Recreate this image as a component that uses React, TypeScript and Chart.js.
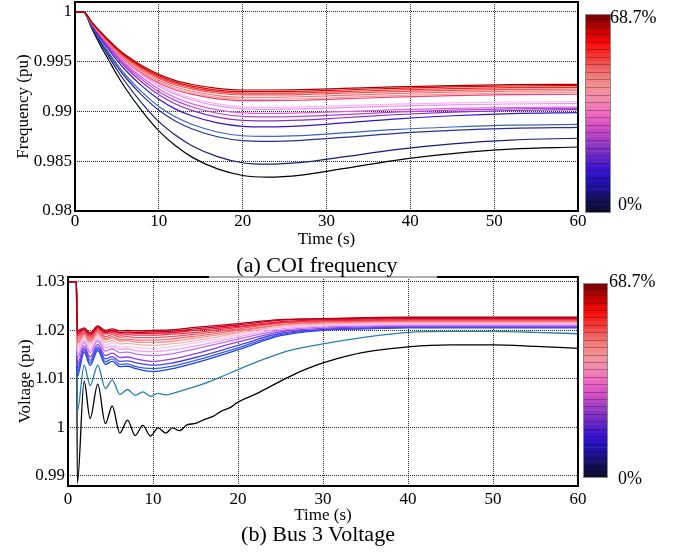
import React, { useEffect, useRef } from "react";
import { Chart, registerables } from "chart.js";
Chart.register(...registerables);

// ---------- (a) COI frequency ----------
const TIME_F = [0, 1, 2, 3, 4, 5, 6, 8, 10, 12, 14, 17, 20, 23, 27, 32, 38, 45, 52, 60];
const F_X_TICKS = [0, 10, 20, 30, 40, 50, 60];
const F_Y_TICKS = [0.98, 0.985, 0.99, 0.995, 1];
const F_Y_LABELS = ["0.98", "0.985", "0.99", "0.995", "1"];

const FREQ_00 = [1, 1, 0.99834, 0.99668, 0.99519, 0.99369, 0.99236, 0.99004, 0.98805, 0.98655, 0.98539, 0.98423, 0.98357, 0.9834, 0.98361, 0.98425, 0.98507, 0.98576, 0.98622, 0.98643];
const FREQ_01 = [1, 1, 0.99847, 0.99694, 0.99556, 0.99419, 0.99296, 0.99082, 0.98898, 0.98761, 0.98654, 0.98547, 0.98485, 0.9847, 0.98488, 0.98543, 0.98614, 0.98674, 0.98713, 0.98731];
const FREQ_02 = [1, 1, 0.99851, 0.99708, 0.99578, 0.99454, 0.99344, 0.99162, 0.99012, 0.98902, 0.98824, 0.98746, 0.98707, 0.987, 0.9871, 0.98739, 0.98778, 0.9881, 0.98831, 0.98841];
const FREQ_03 = [1, 1, 0.99856, 0.99719, 0.99594, 0.99475, 0.99369, 0.99194, 0.9905, 0.98944, 0.98869, 0.98794, 0.98756, 0.9875, 0.98758, 0.98784, 0.98817, 0.98844, 0.98863, 0.98871];
const FREQ_04 = [1, 1, 0.99867, 0.9974, 0.99625, 0.99515, 0.99417, 0.99255, 0.99122, 0.99024, 0.98955, 0.98885, 0.98851, 0.98845, 0.98855, 0.98885, 0.98924, 0.98957, 0.98978, 0.98988];
const FREQ_05 = [1, 1, 0.99874, 0.99754, 0.99644, 0.9954, 0.99447, 0.99294, 0.99168, 0.99075, 0.99009, 0.98943, 0.9891, 0.98905, 0.98913, 0.98937, 0.98967, 0.98993, 0.9901, 0.99018];
const FREQ_06 = [1, 1, 0.99879, 0.99763, 0.99657, 0.99557, 0.99467, 0.9932, 0.99198, 0.99109, 0.99045, 0.98982, 0.9895, 0.98945, 0.98951, 0.98969, 0.98993, 0.99013, 0.99026, 0.99032];
const FREQ_07 = [1, 1, 0.99883, 0.99771, 0.99669, 0.99572, 0.99485, 0.99342, 0.99225, 0.99138, 0.99077, 0.99016, 0.98985, 0.9898, 0.98985, 0.98998, 0.99016, 0.99031, 0.9904, 0.99045];
const FREQ_08 = [1, 1, 0.99888, 0.9978, 0.99682, 0.99589, 0.99506, 0.99369, 0.99257, 0.99174, 0.99115, 0.99056, 0.99027, 0.99022, 0.99026, 0.99038, 0.99053, 0.99066, 0.99075, 0.99079];
const FREQ_09 = [1, 1, 0.9989, 0.99784, 0.99689, 0.99598, 0.99516, 0.99382, 0.99272, 0.9919, 0.99133, 0.99076, 0.99047, 0.99042, 0.99046, 0.99058, 0.99073, 0.99086, 0.99095, 0.99099];
const FREQ_10 = [1, 1, 0.99884, 0.99777, 0.99679, 0.9959, 0.9951, 0.99385, 0.99287, 0.99216, 0.99171, 0.99127, 0.99109, 0.99109, 0.99113, 0.99127, 0.99144, 0.99159, 0.99169, 0.99173];
const FREQ_11 = [1, 1, 0.99886, 0.99781, 0.99684, 0.99597, 0.99518, 0.99395, 0.99298, 0.99228, 0.99184, 0.99141, 0.99123, 0.99123, 0.99128, 0.99142, 0.9916, 0.99175, 0.99185, 0.9919];
const FREQ_12 = [1, 1, 0.99889, 0.99786, 0.99691, 0.99606, 0.99529, 0.99409, 0.99314, 0.99246, 0.99203, 0.9916, 0.99143, 0.99143, 0.99148, 0.99161, 0.99179, 0.99194, 0.99204, 0.99209];
const FREQ_13 = [1, 1, 0.99892, 0.99792, 0.997, 0.99616, 0.99541, 0.99425, 0.99333, 0.99266, 0.99224, 0.99183, 0.99166, 0.99166, 0.9917, 0.99183, 0.99199, 0.99213, 0.99222, 0.99226];
const FREQ_14 = [1, 1, 0.99894, 0.99796, 0.99706, 0.99624, 0.99551, 0.99436, 0.99346, 0.99281, 0.9924, 0.99199, 0.99183, 0.99183, 0.99187, 0.992, 0.99216, 0.9923, 0.99239, 0.99243];
const FREQ_15 = [1, 1, 0.99896, 0.998, 0.99712, 0.99632, 0.99559, 0.99447, 0.99359, 0.99295, 0.99255, 0.99215, 0.99199, 0.99199, 0.99203, 0.99216, 0.99233, 0.99247, 0.99256, 0.9926];
const FREQ_16 = [1, 1, 0.99898, 0.99804, 0.99718, 0.99639, 0.99569, 0.99459, 0.99373, 0.9931, 0.99271, 0.99232, 0.99216, 0.99216, 0.9922, 0.99232, 0.99247, 0.9926, 0.99269, 0.99273];

const FREQ_SERIES = [FREQ_00, FREQ_01, FREQ_02, FREQ_03, FREQ_04, FREQ_05, FREQ_06, FREQ_07, FREQ_08, FREQ_09, FREQ_10, FREQ_11, FREQ_12, FREQ_13, FREQ_14, FREQ_15, FREQ_16];
const FREQ_COLORS = ["#000000", "#1c1c78", "#28309c", "#3a64c0", "#3414c8", "#8a2ccc", "#b444d4", "#e25ae0", "#f090f0", "#f8b4f4", "#f0407c", "#f89898", "#f07474", "#f05050", "#ff2020", "#e00000", "#a00000"];

// ---------- (b) Bus 3 voltage ----------
const TIME_V0 = [0, 0.99, 1.1, 1.9, 2.6, 3.5, 4.4, 5.2, 6.1, 7.0, 7.9, 8.8, 9.7, 10.6, 11.5, 12.3, 13.1, 14, 15, 16, 17, 18, 19, 20, 22, 24, 26, 28, 30, 33, 36, 40, 45, 50, 55, 60];
const VOLT_00 = [1.03, 1.03, 0.9885, 1.0095, 1.0018, 1.0089, 1.0008, 1.0044, 0.9988, 1.0015, 0.9983, 1.0004, 0.9982, 0.9999, 0.9988, 0.9999, 0.9993, 1.0005, 1.0008, 1.0016, 1.0022, 1.0033, 1.004, 1.0052, 1.0068, 1.0086, 1.0104, 1.012, 1.0133, 1.0148, 1.0158, 1.0166, 1.017, 1.017, 1.0167, 1.0163];
const TIME_V1 = [0, 0.99, 1.1, 1.9, 2.6, 3.5, 4.4, 5.2, 6.1, 7.0, 7.9, 8.8, 9.7, 10.6, 11.5, 12.5, 14, 16, 18, 20, 23, 26, 30, 35, 40, 45, 50, 55, 60];
const VOLT_01 = [1.03, 1.03, 1.0033, 1.0128, 1.0086, 1.0128, 1.008, 1.0098, 1.0068, 1.0078, 1.0066, 1.0073, 1.0064, 1.007, 1.0067, 1.0071, 1.0079, 1.009, 1.0104, 1.0119, 1.014, 1.0158, 1.0172, 1.0186, 1.0196, 1.0198, 1.0198, 1.0196, 1.0193];
const TIME_V = [0, 0.99, 1.08, 1.9, 2.6, 3.5, 4.4, 5.2, 6.1, 7, 8, 10, 12, 15, 20, 25, 30, 35, 40, 50, 60];
const VOLT_02 = [1.03, 1.03, 1.0105, 1.0155, 1.0128, 1.0158, 1.013, 1.0136, 1.0125, 1.0126, 1.0121, 1.0115, 1.012, 1.0133, 1.016, 1.0189, 1.02, 1.0203, 1.0205, 1.0205, 1.0205];
const VOLT_03 = [1.03, 1.03, 1.0112, 1.0159, 1.0133, 1.0162, 1.0135, 1.0141, 1.013, 1.0131, 1.0125, 1.0121, 1.0125, 1.0138, 1.0164, 1.0191, 1.0201, 1.0204, 1.0206, 1.0206, 1.0206];
const VOLT_04 = [1.03, 1.03, 1.0119, 1.0163, 1.0138, 1.0166, 1.0141, 1.0146, 1.0136, 1.0137, 1.0133, 1.0128, 1.0132, 1.0144, 1.0169, 1.0194, 1.0202, 1.0205, 1.0207, 1.0207, 1.0207];
const VOLT_05 = [1.03, 1.03, 1.0129, 1.0168, 1.0145, 1.0171, 1.0148, 1.0153, 1.0144, 1.0145, 1.0141, 1.0136, 1.014, 1.0152, 1.0176, 1.0197, 1.0204, 1.0207, 1.0208, 1.0208, 1.0208];
const VOLT_06 = [1.03, 1.03, 1.0142, 1.0175, 1.0154, 1.0178, 1.0157, 1.0162, 1.0154, 1.0155, 1.0151, 1.0148, 1.0151, 1.0162, 1.0182, 1.02, 1.0207, 1.0209, 1.021, 1.021, 1.021];
const VOLT_07 = [1.03, 1.03, 1.015, 1.0179, 1.016, 1.0183, 1.0164, 1.0168, 1.0161, 1.0162, 1.0158, 1.0156, 1.0159, 1.0168, 1.0186, 1.0203, 1.0209, 1.0211, 1.0212, 1.0212, 1.0212];
const VOLT_08 = [1.03, 1.03, 1.0158, 1.0183, 1.0166, 1.0187, 1.0169, 1.0174, 1.0166, 1.0167, 1.0165, 1.0163, 1.0166, 1.0174, 1.019, 1.0206, 1.0211, 1.0213, 1.0214, 1.0214, 1.0214];
const VOLT_09 = [1.03, 1.03, 1.0165, 1.0187, 1.0171, 1.0191, 1.0175, 1.0179, 1.0172, 1.0173, 1.0171, 1.0169, 1.0172, 1.0179, 1.0194, 1.0208, 1.0213, 1.0215, 1.0216, 1.0216, 1.0216];
const VOLT_10 = [1.03, 1.03, 1.0172, 1.0191, 1.0176, 1.0194, 1.018, 1.0184, 1.0178, 1.0179, 1.0176, 1.0175, 1.0177, 1.0184, 1.0197, 1.0211, 1.0215, 1.0217, 1.0218, 1.0218, 1.0218];
const VOLT_11 = [1.03, 1.03, 1.0176, 1.0193, 1.0179, 1.0197, 1.0183, 1.0187, 1.0181, 1.0182, 1.018, 1.018, 1.0182, 1.0188, 1.02, 1.0212, 1.0217, 1.0218, 1.0219, 1.0219, 1.0219];
const VOLT_12 = [1.03, 1.03, 1.0182, 1.0196, 1.0183, 1.02, 1.0187, 1.0191, 1.0186, 1.0187, 1.0185, 1.0185, 1.0187, 1.0192, 1.0203, 1.0215, 1.0219, 1.022, 1.0221, 1.0221, 1.0221];
const VOLT_13 = [1.03, 1.03, 1.0188, 1.0199, 1.0187, 1.0203, 1.0192, 1.0195, 1.019, 1.0191, 1.019, 1.019, 1.0192, 1.0196, 1.0206, 1.0216, 1.022, 1.0221, 1.0222, 1.0222, 1.0222];
const VOLT_14 = [1.03, 1.03, 1.0192, 1.0202, 1.019, 1.0205, 1.0195, 1.0198, 1.0194, 1.0195, 1.0194, 1.0194, 1.0195, 1.02, 1.0208, 1.0218, 1.0222, 1.0223, 1.0224, 1.0224, 1.0224];
const VOLT_15 = [1.03, 1.03, 1.0195, 1.0203, 1.0192, 1.0207, 1.0197, 1.02, 1.0196, 1.0197, 1.0196, 1.0197, 1.0198, 1.0203, 1.0211, 1.0221, 1.0224, 1.0225, 1.0226, 1.0226, 1.0226];
const VOLT_16 = [1.03, 1.03, 1.0199, 1.0205, 1.0195, 1.0209, 1.02, 1.0203, 1.0199, 1.02, 1.0199, 1.02, 1.0201, 1.0206, 1.0214, 1.0222, 1.0224, 1.0226, 1.0227, 1.0227, 1.0227];

const VOLT_SERIES = [VOLT_00, VOLT_01, VOLT_02, VOLT_03, VOLT_04, VOLT_05, VOLT_06, VOLT_07, VOLT_08, VOLT_09, VOLT_10, VOLT_11, VOLT_12, VOLT_13, VOLT_14, VOLT_15, VOLT_16];
const VOLT_TIMES = [TIME_V0, TIME_V1, TIME_V, TIME_V, TIME_V, TIME_V, TIME_V, TIME_V, TIME_V, TIME_V, TIME_V, TIME_V, TIME_V, TIME_V, TIME_V, TIME_V, TIME_V];
const VOLT_COLORS = ["#000000", "#2a7fb0", "#2040e0", "#3060f0", "#5040e8", "#9040e0", "#c070f0", "#f0a0f8", "#f8c8e8", "#f8b0b0", "#f89090", "#f07070", "#f05060", "#f03048", "#e81830", "#d00020", "#b00018"];
const V_X_TICKS = [0, 10, 20, 30, 40, 50, 60];
const V_Y_TICKS = [0.99, 1, 1.01, 1.02, 1.03];
const V_Y_LABELS = ["0.99", "1", "1.01", "1.02", "1.03"];

const CBAR_LABELS = ["0%", "68.7%"];
const CBAR_STOPS = ["#0b0b2a", "#14105e", "#1e10a8", "#3612d2", "#6a28c4", "#9a3cc4", "#d04cc4", "#f068c0", "#f08cae", "#f49090", "#f07070", "#f43a3a", "#ff0a0a", "#c00000", "#7a0000"];

const FONT = "'Liberation Serif', 'Times New Roman', serif";

function hexToRgb(h: string) {
  const n = parseInt(h.slice(1), 16);
  return [(n >> 16) & 255, (n >> 8) & 255, n & 255];
}
function cmap(t: number) {
  const p = t * (CBAR_STOPS.length - 1);
  const i = Math.min(Math.floor(p), CBAR_STOPS.length - 2);
  const f = p - i;
  const a = hexToRgb(CBAR_STOPS[i]);
  const b = hexToRgb(CBAR_STOPS[i + 1]);
  return `rgb(${Math.round(a[0] + (b[0] - a[0]) * f)},${Math.round(a[1] + (b[1] - a[1]) * f)},${Math.round(a[2] + (b[2] - a[2]) * f)})`;
}

const decorPlugin = {
  id: "decor",
  afterDraw(chart: any, _args: any, opts: any) {
    const ctx = chart.ctx;
    const ca = chart.chartArea;
    ctx.save();
    // frame
    ctx.strokeStyle = "#000";
    ctx.lineWidth = 2;
    ctx.strokeRect(ca.left, ca.top, ca.right - ca.left, ca.bottom - ca.top);
    if (opts.gray) {
      ctx.strokeStyle = "#b0b0b0";
      ctx.beginPath();
      ctx.moveTo(opts.gray[0], ca.top);
      ctx.lineTo(opts.gray[1], ca.top);
      ctx.stroke();
    }
    // colorbar
    const { x, y, w, h } = opts.bar;
    const n = 52;
    const bh = h / n;
    for (let i = 0; i < n; i++) {
      const t = (i + 0.5) / n;
      const yy = y + h - (i + 1) * bh;
      ctx.fillStyle = cmap(t);
      ctx.fillRect(x, yy, w, bh + 0.5);
    }
    ctx.strokeStyle = "rgba(0,0,0,0.28)";
    ctx.lineWidth = 1;
    for (let i = 1; i < n; i += 1) {
      if (i % 2 === 0) continue;
      const yy = Math.round(y + h - i * bh) + 0.5;
      ctx.beginPath();
      ctx.moveTo(x, yy);
      ctx.lineTo(x + w, yy);
      ctx.stroke();
    }
    ctx.strokeStyle = "#8a8a8a";
    ctx.strokeRect(x - 0.5, y - 0.5, w + 1, h + 1);
    ctx.fillStyle = "#000";
    ctx.font = `18px ${FONT}`;
    ctx.textBaseline = "middle";
    ctx.textAlign = "left";
    ctx.fillText(CBAR_LABELS[1], opts.topLabel[0], opts.topLabel[1]);
    ctx.fillText(CBAR_LABELS[0], opts.botLabel[0], opts.botLabel[1]);
    ctx.restore();
  },
};

function makeConfig(p: any) {
  const datasets = p.series
    .map((vals: number[], i: number) => ({
      data: p.times[i].map((t: number, j: number) => ({ x: t, y: vals[j] })),
      borderColor: p.colors[i],
      borderWidth: p.lw,
      pointRadius: 0,
      fill: false,
      cubicInterpolationMode: "monotone",
    }))
    .reverse();
  const tickFont = { family: FONT, size: 17 };
  return {
    type: "line",
    data: { datasets },
    plugins: [decorPlugin],
    options: {
      animation: false,
      responsive: false,
      events: [],
      layout: { padding: p.padding },
      plugins: {
        legend: { display: false },
        tooltip: { enabled: false },
        decor: p.decor,
      },
      scales: {
        x: {
          type: "linear",
          min: 0,
          max: 60,
          afterBuildTicks: (s: any) => {
            s.ticks = p.xTicks.map((v: number) => ({ value: v }));
          },
          afterFit: (s: any) => {
            s.height = p.xHeight;
            s.paddingLeft = 0;
            s.paddingRight = 0;
          },
          ticks: { font: tickFont, color: "#000", padding: p.xPad, maxRotation: 0, autoSkip: false, callback: (v: number) => String(v) },
          grid: { color: "rgba(0,0,0,0.85)", lineWidth: 1, drawTicks: false },
          border: { display: false, dash: [1, 1] },
          title: { display: true, text: "Time (s)", font: tickFont, color: "#000", padding: { top: 0, bottom: 0 } },
        },
        y: {
          type: "linear",
          min: p.yMin,
          max: p.yMax,
          afterBuildTicks: (s: any) => {
            s.ticks = p.yTicks.map((v: number) => ({ value: v }));
          },
          afterFit: (s: any) => {
            s.width = p.yWidth;
            s.paddingTop = 0;
            s.paddingBottom = 0;
          },
          ticks: {
            font: tickFont,
            color: "#000",
            padding: 3,
            callback: (v: number) => {
              const k = p.yTicks.findIndex((q: number) => Math.abs(q - v) < 1e-9);
              return k >= 0 ? p.yLabels[k] : "";
            },
          },
          grid: { color: "rgba(0,0,0,0.85)", lineWidth: 1, drawTicks: false },
          border: { display: false, dash: [1, 1] },
          title: { display: true, text: p.yTitle, font: tickFont, color: "#000", padding: { top: p.yTitlePad, bottom: 0 } },
        },
      },
    },
  };
}

export default function App() {
  const refA = useRef<HTMLCanvasElement>(null);
  const refB = useRef<HTMLCanvasElement>(null);
  useEffect(() => {
    const a = new Chart(
      refA.current as HTMLCanvasElement,
      makeConfig({
        series: FREQ_SERIES,
        times: FREQ_SERIES.map(() => TIME_F),
        colors: FREQ_COLORS,
        lw: 1.2,
        padding: { left: 0, right: 108, top: 2, bottom: 0 },
        xTicks: F_X_TICKS,
        xHeight: 39,
        xPad: 0,
        yMin: 0.98,
        yMax: 1.001,
        yTicks: F_Y_TICKS,
        yLabels: F_Y_LABELS,
        yWidth: 75,
        yTitle: "Frequency (pu)",
        yTitlePad: 13,
        decor: { bar: { x: 586, y: 15, w: 24, h: 197 }, topLabel: [610, 18], botLabel: [618, 205] },
      }) as any
    );
    const b = new Chart(
      refB.current as HTMLCanvasElement,
      makeConfig({
        series: VOLT_SERIES,
        times: VOLT_TIMES,
        colors: VOLT_COLORS,
        lw: 1.3,
        padding: { left: 0, right: 108, top: 7, bottom: 0 },
        xTicks: V_X_TICKS,
        xHeight: 40,
        xPad: 3,
        yMin: 0.9879,
        yMax: 1.031,
        yTicks: V_Y_TICKS,
        yLabels: V_Y_LABELS,
        yWidth: 68,
        yTitle: "Voltage (pu)",
        yTitlePad: 15,
        decor: { bar: { x: 584, y: 14, w: 23, h: 193 }, topLabel: [609, 12], botLabel: [618, 209], gray: [209, 437] },
      }) as any
    );
    return () => {
      a.destroy();
      b.destroy();
    };
  }, []);
  const cap: React.CSSProperties = {
    position: "absolute",
    fontFamily: FONT,
    fontSize: 22,
    lineHeight: "22px",
    color: "#000",
    whiteSpace: "nowrap",
    transform: "translateX(-50%)",
  };
  return (
    <div style={{ position: "absolute", left: 0, top: 0, width: 686, height: 552, background: "#fff", overflow: "hidden" }}>
      <canvas ref={refA} width={686} height={250} style={{ position: "absolute", left: 0, top: 0, width: 686, height: 250 }} />
      <canvas ref={refB} width={686} height={256} style={{ position: "absolute", left: 0, top: 270, width: 686, height: 256 }} />
      <div style={{ ...cap, left: 317, top: 254 }}>(a) COI frequency</div>
      <div style={{ ...cap, left: 318, top: 523 }}>(b) Bus 3 Voltage</div>
    </div>
  );
}
